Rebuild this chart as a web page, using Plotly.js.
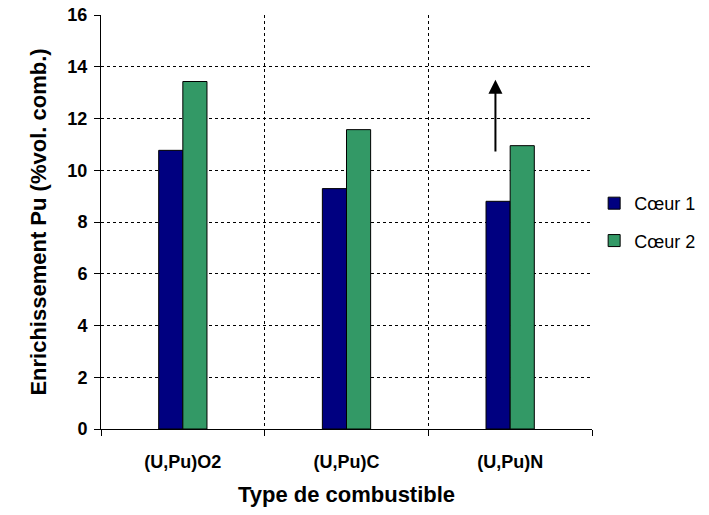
<!DOCTYPE html>
<html>
<head>
<meta charset="utf-8">
<script src="https://cdn.plot.ly/plotly-3.0.1.min.js"></script>
<style>body{margin:0;padding:0;background:#fff;}#chart{width:709px;height:515px;}</style>
</head>
<body>
<div id="chart"></div>
<script>
var categories = ["(U,Pu)O2", "(U,Pu)C", "(U,Pu)N"];
var coeur1 = [10.77, 9.29, 8.80];
var coeur2 = [13.43, 11.57, 10.95];
var seriesNames = ["Cœur 1", "Cœur 2"];
var yTicks = [0, 2, 4, 6, 8, 10, 12, 14, 16];
var arrowFrom = {x: 1.91, y: 10.67};
var arrowTo = {x: 1.91, y: 13.5};

var font = "Liberation Sans, Arial, sans-serif";
var traces = [
  {type: "bar", name: seriesNames[0], x: categories, y: coeur1, legendgroup: "a",
   marker: {color: "#000080", line: {color: "#000000", width: 1}}},
  {type: "bar", name: seriesNames[1], x: categories, y: coeur2, legendgroup: "b",
   marker: {color: "#339966", line: {color: "#000000", width: 1}}}
];
var layout = {
  width: 709, height: 515,
  margin: {l: 101, r: 117, t: 15, b: 86},
  paper_bgcolor: "#ffffff", plot_bgcolor: "#ffffff",
  barmode: "group", bargap: 0.705, bargroupgap: 0,
  font: {family: font, color: "#000000"},
  xaxis: {
    type: "category", tickson: "boundaries",
    tickmode: "array", tickvals: categories,
    ticktext: categories.map(function (c) { return "<b>" + c + "</b>"; }),
    showgrid: true, gridcolor: "#000000", gridwidth: 1, griddash: "dot",
    showline: true, linecolor: "#000000", linewidth: 1,
    ticks: "outside", ticklen: 6, tickcolor: "#000000",
    tickfont: {family: font, size: 18, color: "#000000"},
    ticklabelstandoff: 16,
    title: {text: "<b>Type de combustible</b>", font: {family: font, size: 22}, standoff: 16},
    range: [-0.5, 2.5], fixedrange: true
  },
  yaxis: {
    range: [0, 16], tickmode: "array", tickvals: yTicks,
    ticktext: yTicks.map(function (v) { return "<b>" + v + "</b>"; }),
    showgrid: true, gridcolor: "#000000", gridwidth: 1, griddash: "dot",
    showline: true, linecolor: "#000000", linewidth: 1,
    ticks: "outside", ticklen: 6, tickcolor: "#000000",
    tickfont: {family: font, size: 18, color: "#000000"},
    ticklabelstandoff: 3,
    title: {text: "<b>Enrichissement Pu (%vol. comb.)</b>", font: {family: font, size: 22}, standoff: 14},
    zeroline: false, fixedrange: true
  },
  legend: {xref: "container", yref: "container", x: 0.838, y: 0.569, xanchor: "left", yanchor: "middle",
    font: {family: font, size: 18, color: "#000000"}, tracegroupgap: 11, bgcolor: "rgba(0,0,0,0)"},
  showlegend: true,
  annotations: [{
    x: arrowTo.x, y: arrowTo.y, xref: "x", yref: "y",
    ax: arrowFrom.x, ay: arrowFrom.y, axref: "x", ayref: "y",
    text: "", showarrow: true, arrowhead: 2, arrowsize: 1.4, arrowwidth: 2, arrowcolor: "#000000"
  }]
};
Plotly.newPlot("chart", traces, layout, {displayModeBar: false, staticPlot: true});
</script>
</body>
</html>
